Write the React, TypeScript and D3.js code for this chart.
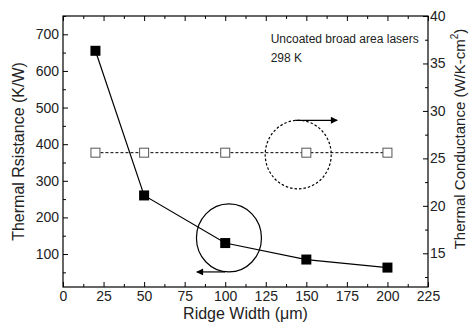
import React, { useEffect, useRef } from 'react';
import * as d3 from 'd3';

const ridgeWidths = [20, 50, 100, 150, 200];
const resistance = [655, 260, 130, 85, 63];
const conductance = [25.6, 25.6, 25.6, 25.6, 25.6];

const xMajor = d3.range(0, 226, 25);
const xMinor = d3.range(12.5, 225, 25);
const yLeftMajor = d3.range(100, 701, 100);
const yLeftMinor = d3.range(50, 751, 100);
const yRightMajor = d3.range(15, 41, 5);
const yRightMinor = d3.range(12.5, 40, 5);

const W = 471;
const H = 324;

export default function App() {
  const svgRef = useRef<SVGSVGElement>(null);

  useEffect(() => {
    if (!svgRef.current) return;
    const svg = d3.select(svgRef.current);
    svg.selectAll('*').remove();

    const margin = { top: 16, right: 43, bottom: 37, left: 63 };
    const innerWidth = W - margin.left - margin.right;
    const innerHeight = H - margin.top - margin.bottom;
    const font = 'Liberation Sans, Arial, sans-serif';

    const defs = svg.append('defs');
    defs
      .append('marker')
      .attr('id', 'arrow')
      .attr('viewBox', '0 0 10 10')
      .attr('refX', 9)
      .attr('refY', 5)
      .attr('markerWidth', 9)
      .attr('markerHeight', 7)
      .attr('markerUnits', 'userSpaceOnUse')
      .attr('orient', 'auto')
      .append('path')
      .attr('d', 'M0,0L10,5L0,10Z')
      .attr('fill', '#000');

    const g = svg
      .append('g')
      .attr('transform', `translate(${margin.left},${margin.top})`);

    // Scales
    const x = d3.scaleLinear().domain([0, 225]).range([0, innerWidth]);
    const yL = d3.scaleLinear().domain([10, 750]).range([innerHeight, 0]);
    const yR = d3.scaleLinear().domain([11.45, 40]).range([innerHeight, 0]);

    const styleAxis = (sel: d3.Selection<SVGGElement, unknown, null, undefined>) => {
      sel.select('.domain').remove();
      sel.selectAll('line').attr('stroke', '#000');
      sel
        .selectAll('text')
        .attr('font-family', font)
        .attr('font-size', 14)
        .attr('fill', '#222');
    };

    // Minor ticks
    g.append('g')
      .attr('transform', `translate(0,${innerHeight})`)
      .call(d3.axisBottom(x).tickValues(xMinor).tickSize(-3).tickFormat(() => ''))
      .call(styleAxis);
    g.append('g')
      .call(d3.axisTop(x).tickValues(xMinor).tickSize(-3).tickFormat(() => ''))
      .call(styleAxis);
    g.append('g')
      .call(d3.axisLeft(yL).tickValues(yLeftMinor).tickSize(-3).tickFormat(() => ''))
      .call(styleAxis);
    g.append('g')
      .attr('transform', `translate(${innerWidth},0)`)
      .call(d3.axisRight(yR).tickValues(yRightMinor).tickSize(-3).tickFormat(() => ''))
      .call(styleAxis);

    // Major ticks
    g.append('g')
      .attr('transform', `translate(0,${innerHeight})`)
      .call(d3.axisBottom(x).tickValues(xMajor).tickSize(-5).tickPadding(4))
      .call(styleAxis);
    g.append('g')
      .call(d3.axisTop(x).tickValues(xMajor).tickSize(-5).tickFormat(() => ''))
      .call(styleAxis);
    g.append('g')
      .call(d3.axisLeft(yL).tickValues(yLeftMajor).tickSize(-5).tickPadding(4))
      .call(styleAxis);
    g.append('g')
      .attr('transform', `translate(${innerWidth},0)`)
      .call(d3.axisRight(yR).tickValues(yRightMajor).tickSize(-5).tickPadding(2))
      .call(styleAxis);

    // Frame
    g.append('rect')
      .attr('width', innerWidth)
      .attr('height', innerHeight)
      .attr('fill', 'none')
      .attr('stroke', '#000')
      .attr('stroke-width', 1.2);

    // Axis titles
    svg
      .append('text')
      .attr('x', margin.left + innerWidth / 2)
      .attr('y', 319)
      .attr('text-anchor', 'middle')
      .attr('font-family', font)
      .attr('font-size', 16)
      .attr('fill', '#222')
      .text('Ridge Width (μm)');

    svg
      .append('text')
      .attr('transform', `translate(24,${margin.top + innerHeight / 2}) rotate(-90)`)
      .attr('text-anchor', 'middle')
      .attr('font-family', font)
      .attr('font-size', 16)
      .attr('fill', '#222')
      .text('Thermal Rsistance (K/W)');

    const rt = svg
      .append('text')
      .attr('transform', `translate(465,139) rotate(-90)`)
      .attr('text-anchor', 'middle')
      .attr('font-family', font)
      .attr('font-size', 15)
      .attr('fill', '#222');
    rt.append('tspan').text('Thermal Conductance (W/K-cm');
    rt.append('tspan').attr('font-size', 10).attr('dy', -7).text('2');
    rt.append('tspan').attr('dy', 7).text(')');

    // Annotation text
    const note = g
      .append('text')
      .attr('font-family', font)
      .attr('font-size', 12)
      .attr('fill', '#222');
    note.append('tspan').attr('x', x(128)).attr('y', 27).text('Uncoated broad area lasers');
    note.append('tspan').attr('x', x(128)).attr('y', 46).text('298 K');

    // Conductance series (dashed, open squares)
    const lineR = d3
      .line<number>()
      .x((_, i) => x(ridgeWidths[i]))
      .y(d => yR(d));
    g.append('path')
      .datum(conductance)
      .attr('fill', 'none')
      .attr('stroke', '#000')
      .attr('stroke-width', 1)
      .attr('stroke-dasharray', '3,2')
      .attr('d', lineR);

    g.selectAll('.open')
      .data(conductance)
      .join('rect')
      .attr('x', (_, i) => x(ridgeWidths[i]) - 4.5)
      .attr('y', d => yR(d) - 4.5)
      .attr('width', 9)
      .attr('height', 9)
      .attr('fill', '#fff')
      .attr('stroke', '#555')
      .attr('stroke-width', 1);

    // Resistance series (solid, filled squares)
    const lineL = d3
      .line<number>()
      .x((_, i) => x(ridgeWidths[i]))
      .y(d => yL(d));
    g.append('path')
      .datum(resistance)
      .attr('fill', 'none')
      .attr('stroke', '#000')
      .attr('stroke-width', 1.2)
      .attr('d', lineL);

    g.selectAll('.filled')
      .data(resistance)
      .join('rect')
      .attr('x', (_, i) => x(ridgeWidths[i]) - 5)
      .attr('y', d => yL(d) - 5)
      .attr('width', 10)
      .attr('height', 10)
      .attr('fill', '#000');

    // Axis indicator ellipses
    const cxL = x(102.3);
    const cyL = yL(144);
    g.append('ellipse')
      .attr('cx', cxL)
      .attr('cy', cyL)
      .attr('rx', 32.5)
      .attr('ry', 34)
      .attr('fill', 'none')
      .attr('stroke', '#000')
      .attr('stroke-width', 1.2);
    g.append('line')
      .attr('x1', cxL - 4)
      .attr('y1', cyL + 34)
      .attr('x2', x(82.5))
      .attr('y2', cyL + 34)
      .attr('stroke', '#000')
      .attr('stroke-width', 1.2)
      .attr('marker-end', 'url(#arrow)');

    const cxR = x(145);
    const cyR = yR(25.4);
    g.append('ellipse')
      .attr('cx', cxR)
      .attr('cy', cyR)
      .attr('rx', 33)
      .attr('ry', 34.3)
      .attr('fill', 'none')
      .attr('stroke', '#000')
      .attr('stroke-width', 1.2)
      .attr('stroke-dasharray', '2.5,2');
    g.append('line')
      .attr('x1', cxR - 3)
      .attr('y1', cyR - 34.3)
      .attr('x2', x(169))
      .attr('y2', cyR - 34.3)
      .attr('stroke', '#000')
      .attr('stroke-width', 1.2)
      .attr('marker-end', 'url(#arrow)');
  }, []);

  return (
    <svg
      ref={svgRef}
      width={W}
      height={H}
      style={{ position: 'absolute', left: 0, top: 0, background: '#fff' }}
    />
  );
}
